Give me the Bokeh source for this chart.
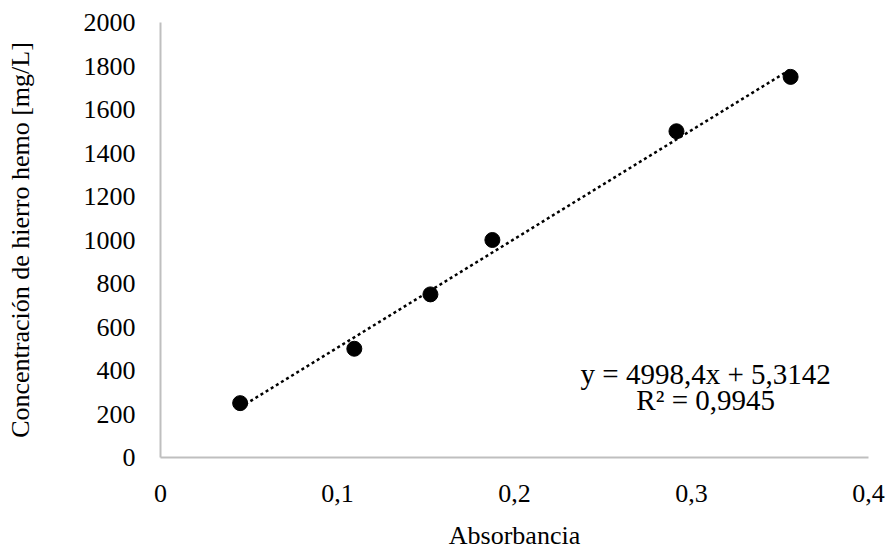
from bokeh.plotting import figure
from bokeh.models import Range1d, FixedTicker, CustomJSTickFormatter, Label
from bokeh.embed import file_html
from bokeh.resources import INLINE

absorbancia = [0.045, 0.1095, 0.1525, 0.1875, 0.2915, 0.356]
concentracion = [250, 500, 750, 1000, 1500, 1750]
slope = 4998.4
intercept = 5.3142
eq_text = "y = 4998,4x + 5,3142"
r2_text = "R² = 0,9945"
x_title = "Absorbancia"
y_title = "Concentración de hierro hemo [mg/L]"
x_ticks = [0, 0.1, 0.2, 0.3, 0.4]
y_ticks = list(range(0, 2001, 200))

FONT = "Liberation Serif"
FS = "26px"
AX = "#BFBFBF"

p = figure(width=892, height=552, output_backend="svg", toolbar_location=None,
           x_range=Range1d(0, 0.4), y_range=Range1d(0, 2000),
           min_border_left=160, min_border_right=24, min_border_top=22, min_border_bottom=95)
p.outline_line_color = None
p.grid.grid_line_color = None

for ax in (p.xaxis[0], p.yaxis[0]):
    ax.axis_line_color = AX
    ax.axis_line_width = 2
    ax.major_tick_line_color = None
    ax.minor_tick_line_color = None
    ax.major_label_text_font = FONT
    ax.major_label_text_font_size = FS
    ax.major_label_text_color = "black"
    ax.axis_label_text_font = FONT
    ax.axis_label_text_font_size = FS
    ax.axis_label_text_font_style = "normal"
    ax.axis_label_text_color = "black"

p.xaxis.ticker = FixedTicker(ticks=x_ticks)
p.yaxis.ticker = FixedTicker(ticks=y_ticks)
p.xaxis.formatter = CustomJSTickFormatter(code="return String(Math.round(tick*10)/10).replace('.', ',');")
p.yaxis.formatter = CustomJSTickFormatter(code="return String(Math.round(tick));")
p.xaxis.major_label_standoff = 21
p.yaxis.major_label_standoff = 19
p.xaxis.axis_label = x_title
p.xaxis.axis_label_standoff = 16
p.yaxis.axis_label = y_title
p.yaxis.axis_label_standoff = 46

xmin, xmax = min(absorbancia), max(absorbancia)
p.line([xmin, xmax], [slope * xmin + intercept, slope * xmax + intercept],
       line_color="black", line_width=2.5, line_dash="3 3")
p.scatter(absorbancia, concentracion, size=15, color="black")

for ytxt, txt in ((384, eq_text), (264, r2_text)):
    p.add_layout(Label(x=0.308, y=ytxt, text=txt, text_align="center", text_baseline="middle",
                       text_font=FONT, text_font_size="29px", text_color="black"))

open("out.html", "w").write(file_html(p, INLINE))
